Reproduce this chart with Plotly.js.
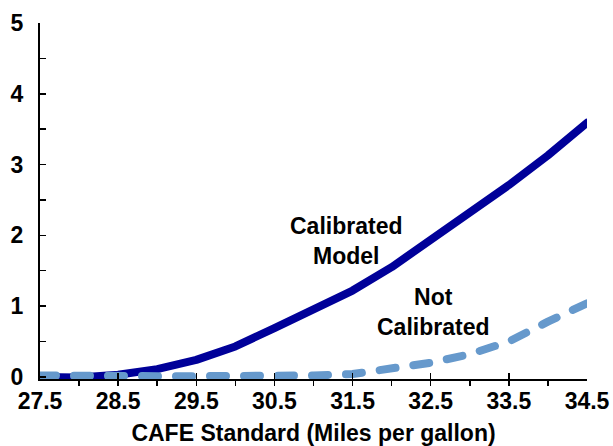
<!DOCTYPE html>
<html>
<head>
<meta charset="utf-8">
<script src="https://cdn.plot.ly/plotly-3.0.1.min.js"></script>
<style>
  html, body { margin: 0; padding: 0; background: #fff; }
  #chart { width: 613px; height: 446px; }
  .js-line { stroke-linecap: round; stroke-linejoin: round; }
</style>
</head>
<body>
<div id="chart"></div>
<script>
// CAFE standard (miles per gallon)
const cafe = [27.5, 28.0, 28.5, 29.0, 29.5, 30.0, 30.5, 31.0, 31.5, 32.0, 32.5, 33.0, 33.5, 34.0, 34.5];
// Calibrated model series
const calibrated = [0.0, -0.01, 0.03, 0.11, 0.24, 0.43, 0.69, 0.95, 1.22, 1.55, 1.93, 2.31, 2.71, 3.13, 3.59];
// Not calibrated series
const notCalibrated = [0.02, 0.01, 0.01, 0.01, 0.01, 0.01, 0.02, 0.02, 0.04, 0.11, 0.20, 0.32, 0.50, 0.78, 1.04];
const xTickVals = [27.5, 28.5, 29.5, 30.5, 31.5, 32.5, 33.5, 34.5];
const xTickText = ["27.5", "28.5", "29.5", "30.5", "31.5", "32.5", "33.5", "34.5"];
const yTickVals = [0, 1, 2, 3, 4, 5];
const labelCal = "Calibrated<br>Model";
const labelNot = "Not<br>Calibrated";
const xTitle = "CAFE Standard (Miles per gallon)";

const FONT = "Liberation Sans, Arial, sans-serif";
const TXT = { family: FONT, size: 23, color: "#000", weight: "bold" };

const traces = [
  {
    x: cafe, y: calibrated, type: "scatter", mode: "lines",
    line: { color: "#000099", width: 8 },
    hoverinfo: "skip", showlegend: false
  },
  {
    x: cafe, y: notCalibrated, type: "scatter", mode: "lines",
    line: { color: "#6699cc", width: 8, dash: "16px,18px" },
    hoverinfo: "skip", showlegend: false
  }
];

const layout = {
  width: 613, height: 446,
  margin: { l: 39.5, r: 26, t: 22.5, b: 67 },
  paper_bgcolor: "#ffffff", plot_bgcolor: "#ffffff",
  font: { family: FONT, size: 23, color: "#000" },
  showlegend: false,
  xaxis: {
    range: [27.5, 34.5],
    tickmode: "array", tickvals: xTickVals, ticktext: xTickText,
    ticks: "inside", ticklen: 6, tickwidth: 1.5, tickcolor: "#000",
    minor: { dtick: 0.5, tick0: 27.5, ticks: "outside", ticklen: 5, tickwidth: 1.5, tickcolor: "#000", showgrid: false },
    showline: true, linecolor: "#000", linewidth: 2,
    showgrid: false, zeroline: false,
    tickfont: TXT,
    ticklabelstandoff: 0,
    title: { text: xTitle, font: TXT, standoff: 12 }
  },
  yaxis: {
    range: [-0.03, 5],
    tickmode: "array", tickvals: yTickVals,
    ticks: "inside", ticklen: 6, tickwidth: 1.5, tickcolor: "#000",
    minor: { dtick: 0.5, tick0: 0, ticks: "inside", ticklen: 6, tickwidth: 1.5, tickcolor: "#000", showgrid: false },
    showline: true, linecolor: "#000", linewidth: 2,
    showgrid: false, zeroline: false,
    tickfont: TXT,
    ticklabelstandoff: 10
  },
  annotations: [
    { x: 31.41, y: 1.92, xref: "x", yref: "y", text: labelCal, showarrow: false,
      font: TXT, align: "center" },
    { x: 32.53, y: 0.92, xref: "x", yref: "y", text: labelNot, showarrow: false,
      font: TXT, align: "center" }
  ]
};

Plotly.newPlot("chart", traces, layout, { staticPlot: true, displayModeBar: false }).then(function () {
  document.querySelectorAll(".cartesianlayer .plot").forEach(function (g) { g.removeAttribute("clip-path"); });
  document.querySelectorAll(".js-line").forEach(function (p) {
    p.style.strokeLinecap = "round";
    p.style.strokeLinejoin = "round";
  });
});
</script>
</body>
</html>
